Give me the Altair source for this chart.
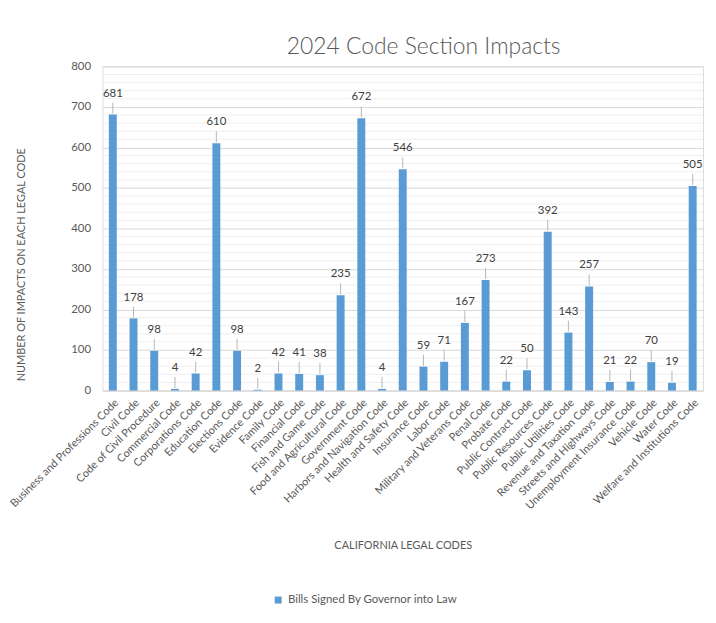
import altair as alt
import pandas as pd

categories = [
    "Business and Professions Code", "Civil Code", "Code of Civil Procedure",
    "Commercial Code", "Corporations Code", "Education Code", "Elections Code",
    "Evidence Code", "Family Code", "Financial Code", "Fish and Game Code",
    "Food and Agricultural Code", "Government Code", "Harbors and Navigation Code",
    "Health and Safety Code", "Insurance Code", "Labor Code",
    "Military and Veterans Code", "Penal Code", "Probate Code",
    "Public Contract Code", "Public Resources Code", "Public Utilities Code",
    "Revenue and Taxation Code", "Streets and Highways Code",
    "Unemployment Insurance Code", "Vehicle Code", "Water Code",
    "Welfare and Institutions Code",
]
values = [681, 178, 98, 4, 42, 610, 98, 2, 42, 41, 38, 235, 672, 4, 546,
          59, 71, 167, 273, 22, 50, 392, 143, 257, 21, 22, 70, 19, 505]
series_name = "Bills Signed By Governor into Law"
major_ticks = [0, 100, 200, 300, 400, 500, 600, 700, 800]
minor_ticks = [v for v in range(20, 800, 20) if v % 100 != 0]

df = pd.DataFrame({"code": categories, "value": values, "series": series_name})
df_minor = pd.DataFrame({"grid": minor_ticks})

FONT = "Lato"
GRAY = "#595959"

xenc = alt.X(
    "code:N", sort=categories,
    scale=alt.Scale(paddingInner=0, paddingOuter=0),
    axis=alt.Axis(
        title="CALIFORNIA LEGAL CODES", labelAngle=-45, labelAlign="right",
        labelBaseline="top", labelPadding=6, labelFontSize=11, labelColor=GRAY,
        labelFont=FONT, ticks=False, domainColor="#D9D9D9", titleFont=FONT,
        titleFontSize=11, titleFontWeight="normal", titleColor=GRAY,
        titleY=156, titleBaseline="middle", labelLimit=300,
    ),
)

yscale = alt.Scale(domain=[0, 800], nice=False)

base = alt.Chart(df)

minor_grid = alt.Chart(df_minor).mark_rule(color="#EFEFEF", strokeWidth=1).encode(
    y=alt.Y("grid:Q", scale=yscale),
)

bars = base.mark_bar(size=8, color="#5B9BD5").encode(
    x=xenc,
    y=alt.Y(
        "value:Q", scale=yscale,
        axis=alt.Axis(
            values=major_ticks, title="NUMBER OF IMPACTS ON EACH LEGAL CODE",
            grid=True, gridColor="#D9D9D9", domain=False, ticks=False,
            labelFont=FONT, labelFontSize=11.5, labelColor=GRAY, labelPadding=12,
            titleFont=FONT, titleFontSize=11, titleFontWeight="normal",
            titleColor=GRAY, titleX=-81, titleY=199, titleAngle=-90,
            titleBaseline="middle", titleAlign="center",
        ),
    ),
    color=alt.Color(
        "series:N", scale=alt.Scale(range=["#5B9BD5"]),
        legend=alt.Legend(
            title=None, orient="none", legendX=171, legendY=531,
            symbolType="square", symbolSize=49, symbolStrokeWidth=0,
            labelFont=FONT, labelFontSize=11.5, labelColor=GRAY, labelLimit=400,
            direction="horizontal",
        ),
    ),
)

leaders = base.mark_rule(color="#A6A6A6", strokeWidth=0.8, yOffset=-1, y2Offset=-12).encode(
    x=alt.X("code:N", sort=categories),
    y=alt.Y("value:Q", scale=yscale),
    y2=alt.Y2("value:Q"),
)

labels = base.mark_text(
    dy=-21, baseline="middle", align="center", font=FONT, fontSize=11.5, color="#404040"
).encode(
    x=alt.X("code:N", sort=categories),
    y=alt.Y("value:Q", scale=yscale),
    text=alt.Text("value:Q"),
)

chart = (
    alt.layer(minor_grid, bars, leaders, labels)
    .properties(
        width=604, height=326,
        autosize=alt.AutoSizeParams(type="none"),
        padding={"left": 95, "top": 57, "right": 5, "bottom": 215},
        title=alt.TitleParams(
            "2024 Code Section Impacts", fontSize=23, font=FONT, fontWeight=300,
            color=GRAY, anchor="middle", dx=21, frame="group", baseline="bottom",
            offset=-22,
        ),
    )
    .configure_view(stroke=None)
    .configure(background="white")
)

chart.save("out.html", embed_options={"renderer": "svg", "actions": False})
